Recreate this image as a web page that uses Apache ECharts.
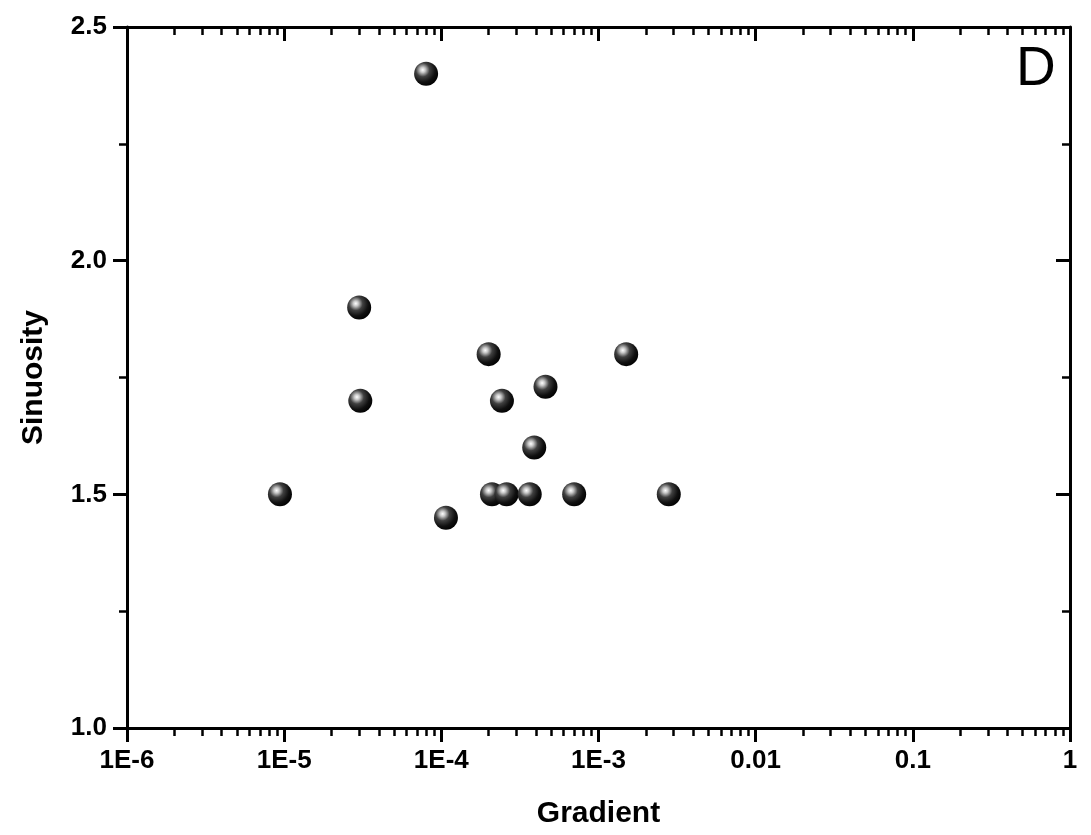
<!DOCTYPE html>
<html>
<head>
<meta charset="utf-8">
<script src="https://cdn.jsdelivr.net/npm/echarts@6/dist/echarts.min.js"></script>
<style>html,body{margin:0;padding:0;background:#fff;}#c{width:1091px;height:835px;}</style>
</head>
<body>
<div id="c"></div>
<script>
// ---- data ----
const gradient  = [8.0e-5, 3.0e-5, 3.05e-5, 9.4e-6, 1.07e-4, 2.0e-4, 2.43e-4, 4.6e-4, 3.9e-4, 2.1e-4, 2.6e-4, 3.65e-4, 7.0e-4, 1.5e-3, 2.8e-3];
const sinuosity = [2.4,    1.9,    1.7,     1.5,    1.45,    1.8,    1.7,     1.73,   1.6,    1.5,    1.5,    1.5,     1.5,    1.8,    1.5];
const xTickValues = [1e-6, 1e-5, 1e-4, 1e-3, 1e-2, 1e-1, 1];
const xTickLabels = ['1E-6', '1E-5', '1E-4', '1E-3', '0.01', '0.1', '1'];
const xMinorTicks = [];
for (let d = 0; d < 6; d++) { for (let m = 2; m <= 9; m++) { xMinorTicks.push(+(m * Math.pow(10, d - 6)).toPrecision(3)); } }
const yTicks = [1.0, 1.5, 2.0, 2.5];

const FONT = "'Liberation Sans', Arial, sans-serif";
const chart = echarts.init(document.getElementById('c'), null, {renderer: 'canvas'});
const pts = gradient.map((g, i) => [g, sinuosity[i]]);

function labelFor(v) {
  for (let i = 0; i < xTickValues.length; i++) {
    if (Math.abs(Math.log10(v) - Math.log10(xTickValues[i])) < 1e-6) return xTickLabels[i];
  }
  return '';
}

const lineStyle = {color: '#000', width: 3};
const baseLog = {type: 'log', logBase: 10, min: 1e-6, max: 1, splitLine: {show: false}};

const option = {
  backgroundColor: '#fff',
  animation: false,
  grid: {left: 127, right: 21, top: 27, bottom: 107, containLabel: false},
  xAxis: [
    Object.assign({}, baseLog, {
      position: 'bottom',
      name: 'Gradient', nameLocation: 'middle', nameGap: 71,
      nameTextStyle: {fontFamily: FONT, fontSize: 30, fontWeight: 'bold', color: '#000'},
      axisLine: {show: true, lineStyle: lineStyle},
      axisTick: {show: true, inside: false, length: 14, lineStyle: {color: '#000', width: 3}},
      axisLabel: {show: true, margin: 20, fontFamily: FONT, fontSize: 26, fontWeight: 'bold', color: '#000', formatter: labelFor}
    }),
    Object.assign({}, baseLog, {
      position: 'bottom',
      axisLine: {show: false},
      axisTick: {show: true, inside: false, length: 8, customValues: xMinorTicks, lineStyle: {color: '#000', width: 2.5}},
      axisLabel: {show: false}
    }),
    Object.assign({}, baseLog, {
      position: 'top',
      axisLine: {show: true, lineStyle: lineStyle},
      axisTick: {show: true, inside: true, length: 14, lineStyle: {color: '#000', width: 3}},
      axisLabel: {show: false}
    }),
    Object.assign({}, baseLog, {
      position: 'top',
      axisLine: {show: false},
      axisTick: {show: true, inside: true, length: 8, customValues: xMinorTicks, lineStyle: {color: '#000', width: 2.5}},
      axisLabel: {show: false}
    })
  ],
  yAxis: [
    {
      type: 'value', position: 'left', min: yTicks[0], max: yTicks[yTicks.length - 1], interval: 0.5,
      name: 'Sinuosity', nameLocation: 'middle', nameGap: 78, nameRotate: 90,
      nameTextStyle: {fontFamily: FONT, fontSize: 30, fontWeight: 'bold', color: '#000'},
      axisLine: {show: true, lineStyle: lineStyle},
      axisTick: {show: true, inside: false, length: 14, lineStyle: {color: '#000', width: 3}},
      minorTick: {show: true, splitNumber: 2, length: 8, lineStyle: {color: '#000', width: 2.5}},
      axisLabel: {show: true, margin: 20, fontFamily: FONT, fontSize: 26, fontWeight: 'bold', color: '#000',
        formatter: v => v.toFixed(1)},
      splitLine: {show: false}
    },
    {
      type: 'value', position: 'right', min: yTicks[0], max: yTicks[yTicks.length - 1], interval: 0.5,
      axisLine: {show: true, lineStyle: lineStyle},
      axisTick: {show: true, inside: true, length: 14, lineStyle: {color: '#000', width: 3}},
      minorTick: {show: true, splitNumber: 2, length: 8, lineStyle: {color: '#000', width: 2.5}},
      axisLabel: {show: false},
      splitLine: {show: false}
    }
  ],
  graphic: [{
    type: 'text', left: 1016, top: 42,
    style: {text: 'D', fontFamily: FONT, fontSize: 55, fill: '#000'}
  }],
  series: [{
    type: 'scatter', xAxisIndex: 0, yAxisIndex: 0,
    data: pts,
    symbol: 'circle', symbolSize: 24,
    itemStyle: {
      color: new echarts.graphic.RadialGradient(0.36, 0.34, 0.72, [
        {offset: 0, color: '#ffffff'},
        {offset: 0.15, color: '#c8c8c8'},
        {offset: 0.4, color: '#404040'},
        {offset: 0.72, color: '#101010'},
        {offset: 1, color: '#000000'}
      ]),
      opacity: 1
    }
  }]
};
chart.setOption(option);
</script>
</body>
</html>
